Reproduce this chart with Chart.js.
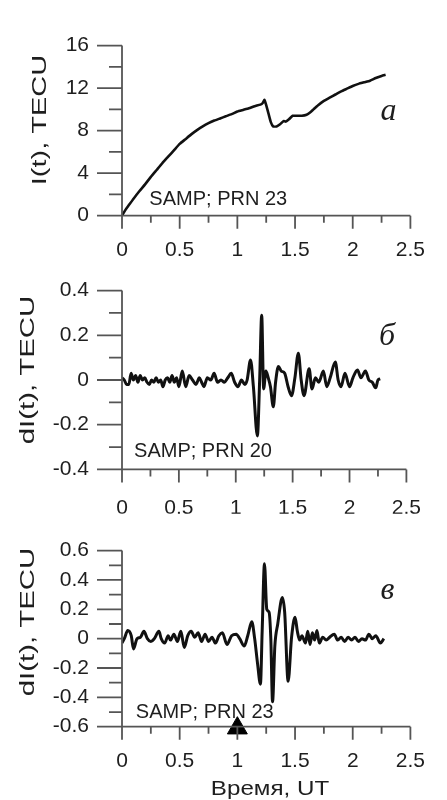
<!DOCTYPE html>
<html>
<head>
<meta charset="utf-8">
<script src="https://cdn.jsdelivr.net/npm/chart.js@4.4.1/dist/chart.umd.min.js"></script>
<style>
    body { margin: 0; background: #fff; }
    .wrap { position: relative; width: 447px; height: 800px; overflow: hidden; }
    canvas { position: absolute; left: 0; }
</style>
</head>
<body>
<div class="wrap">
    <canvas id="panelA" width="447" height="262" style="top:0px"></canvas>
    <canvas id="panelB" width="447" height="270" style="top:245px"></canvas>
    <canvas id="panelC" width="447" height="295" style="top:505px"></canvas>
</div>
<script>
// time axis (UT, hours) shared by all panels
const xMajor = [0, 0.5, 1, 1.5, 2, 2.5];
const xMinor = [0.25, 0.75, 1.25, 1.75, 2.25];
const xLabels = ['0', '0.5', '1', '1.5', '2', '2.5'];

// panel a: I(t), SAMP PRN 23
const yMajorA = [0, 4, 8, 12, 16];
const yMinorA = [2, 6, 10, 14];
const yLabelsA = ['0', '4', '8', '12', '16'];
const timeA = [0, 0.03, 0.06, 0.10, 0.15, 0.20, 0.25, 0.30, 0.35, 0.40, 0.45, 0.50, 0.55, 0.60, 0.65,
    0.70, 0.75, 0.80, 0.85, 0.90, 0.95, 1.00, 1.05, 1.10, 1.15, 1.20, 1.22, 1.235, 1.25, 1.27,
    1.29, 1.31, 1.34, 1.37, 1.40, 1.42, 1.45, 1.48, 1.52, 1.56, 1.60, 1.63, 1.66, 1.70, 1.75,
    1.80, 1.85, 1.90, 1.95, 2.00, 2.05, 2.10, 2.15, 2.20, 2.25, 2.285];
const tecA = [0, 0.55, 1.0, 1.6, 2.3, 2.95, 3.65, 4.3, 4.95, 5.55, 6.15, 6.75, 7.2, 7.65, 8.05,
    8.4, 8.7, 8.95, 9.15, 9.35, 9.55, 9.8, 9.95, 10.1, 10.3, 10.45, 10.6, 10.9, 10.4, 9.6,
    8.8, 8.4, 8.4, 8.6, 8.9, 8.85, 9.1, 9.4, 9.4, 9.4, 9.5, 9.7, 10.0, 10.4, 10.8,
    11.1, 11.4, 11.7, 11.95, 12.2, 12.4, 12.55, 12.7, 12.95, 13.15, 13.25];

// panel б: dI(t), SAMP PRN 20
const yMajorB = [-0.4, -0.2, 0, 0.2, 0.4];
const yMinorB = [-0.3, -0.1, 0.1, 0.3];
const yLabelsB = ['-0.4', '-0.2', '0', '0.2', '0.4'];
const timeB = [0.00, 0.02, 0.04, 0.06, 0.08, 0.10, 0.12, 0.14, 0.16, 0.18,
    0.20, 0.22, 0.24, 0.26, 0.28, 0.30, 0.32, 0.34, 0.36, 0.38,
    0.40, 0.42, 0.44, 0.46, 0.48, 0.50, 0.53, 0.56, 0.59, 0.62,
    0.65, 0.68, 0.70, 0.72, 0.75, 0.78, 0.81, 0.84, 0.87, 0.90,
    0.93, 0.96, 0.99, 1.02, 1.05, 1.08, 1.10, 1.13, 1.155, 1.19,
    1.21, 1.228, 1.245, 1.265, 1.285, 1.305, 1.33, 1.35, 1.375, 1.40,
    1.43, 1.46, 1.49, 1.52, 1.55, 1.575, 1.60, 1.645, 1.67, 1.70,
    1.73, 1.77, 1.80, 1.83, 1.875, 1.90, 1.925, 1.96, 2.00, 2.03,
    2.07, 2.10, 2.14, 2.17, 2.20, 2.23, 2.25, 2.27];
const dtecB = [0.01, 0.00, -0.02, -0.02, 0.03, 0.00, 0.02, -0.01, 0.02, 0.00,
    0.01, -0.01, -0.02, 0.00, -0.01, 0.01, -0.01, 0.00, -0.03, 0.00,
    0.01, -0.01, 0.02, -0.01, 0.01, -0.03, 0.04, -0.03, 0.02, 0.00,
    -0.02, 0.01, -0.01, -0.03, 0.01, 0.00, 0.03, -0.01, 0.00, -0.01,
    0.01, 0.03, -0.01, -0.03, 0.00, -0.02, 0.00, 0.09, -0.03, -0.25,
    0.00, 0.29, -0.04, 0.04, 0.01, -0.03, -0.12, -0.01, 0.06, 0.04,
    0.03, -0.03, -0.07, 0.01, 0.12, 0.00, -0.07, 0.05, -0.04, 0.01,
    -0.01, 0.04, -0.03, 0.01, 0.08, 0.00, -0.03, 0.03, -0.03, 0.01,
    0.045, 0.01, 0.04, 0.00, -0.01, -0.035, 0.00, 0.005];

// panel в: dI(t), SAMP PRN 23
const yMajorC = [-0.6, -0.4, -0.2, 0, 0.2, 0.4, 0.6];
const yMinorC = [-0.5, -0.3, -0.1, 0.1, 0.3, 0.5];
const yLabelsC = ['-0.6', '-0.4', '-0.2', '0', '0.2', '0.4', '0.6'];
const timeC = [0.00, 0.02, 0.05, 0.08, 0.10, 0.13, 0.16, 0.19, 0.22, 0.25,
    0.28, 0.32, 0.34, 0.37, 0.40, 0.42, 0.45, 0.48, 0.51, 0.54,
    0.57, 0.60, 0.63, 0.66, 0.69, 0.72, 0.75, 0.78, 0.81, 0.84,
    0.87, 0.91, 0.95, 0.99, 1.02, 1.06, 1.09, 1.125, 1.15, 1.175,
    1.20, 1.215, 1.235, 1.255, 1.275, 1.29, 1.305, 1.325, 1.35, 1.39,
    1.41, 1.44, 1.47, 1.50, 1.52, 1.54, 1.56, 1.59, 1.61, 1.63,
    1.65, 1.67, 1.69, 1.71, 1.74, 1.77, 1.80, 1.84, 1.87, 1.90,
    1.93, 1.96, 1.99, 2.02, 2.05, 2.08, 2.11, 2.14, 2.17, 2.20,
    2.24, 2.27];
const dtecC = [-0.03, 0.00, 0.055, 0.02, -0.07, 0.00, 0.01, 0.05, 0.00, -0.02,
    0.00, 0.05, 0.00, -0.03, 0.02, -0.01, 0.03, -0.02, 0.05, -0.06,
    0.02, 0.05, 0.01, 0.04, -0.02, 0.03, -0.02, 0.01, -0.03, 0.02,
    0.04, -0.04, 0.02, 0.03, 0.00, -0.05, 0.02, 0.115, 0.00, -0.17,
    -0.31, 0.05, 0.51, 0.20, 0.18, 0.00, -0.43, -0.05, 0.10, 0.28,
    0.18, -0.29, 0.01, 0.145, 0.05, -0.01, 0.02, -0.03, 0.05, -0.04,
    0.04, -0.01, 0.055, -0.03, 0.01, -0.01, 0.01, 0.03, -0.01, 0.01,
    -0.02, 0.01, -0.01, 0.01, -0.02, 0.00, -0.01, 0.03, 0.00, 0.02,
    -0.03, 0.00];

// event marker (triangle on the time axis)
const markerTime = [1.0];
const markerValue = [-0.61];

const SANS = '"Liberation Sans", Arial, sans-serif';
const SERIF = '"Liberation Serif", "Times New Roman", serif';
const textColor = '#1e1e1e';
const axisColor = '#555';

// draws axis lines, long/short ticks and the free texts of a panel
const panelDecor = {
    id: 'panelDecor',
    afterDraw(chart, args, o) {
        const { ctx, scales: { x, y } } = chart;
        const left = x.left, bottom = y.bottom;
        ctx.save();
        ctx.strokeStyle = axisColor;
        ctx.lineWidth = 1.8;
        ctx.beginPath();
        ctx.moveTo(left, y.top);
        ctx.lineTo(left, bottom);
        ctx.moveTo(left, bottom);
        ctx.lineTo(x.right, bottom);
        o.yMajor.forEach(v => {
            const p = y.getPixelForValue(v);
            ctx.moveTo(left - 25, p); ctx.lineTo(left, p);
        });
        o.yMinor.forEach(v => {
            const p = y.getPixelForValue(v);
            ctx.moveTo(left - 13, p); ctx.lineTo(left, p);
        });
        xMajor.forEach(v => {
            const p = x.getPixelForValue(v);
            ctx.moveTo(p, bottom); ctx.lineTo(p, bottom + 13);
        });
        xMinor.forEach(v => {
            const p = x.getPixelForValue(v);
            ctx.moveTo(p, bottom); ctx.lineTo(p, bottom + 7);
        });
        ctx.stroke();

        ctx.fillStyle = textColor;
        ctx.textBaseline = 'alphabetic';
        o.notes.forEach(n => {
            ctx.font = n.font;
            ctx.textAlign = n.align;
            ctx.fillText(n.text, x.getPixelForValue(n.x), y.getPixelForValue(n.y));
        });

        // stretched titles
        ctx.textAlign = 'center';
        ctx.textBaseline = 'middle';
        ctx.font = '21px ' + SANS;
        const t = o.yTitle;
        ctx.save();
        ctx.translate(t.x, t.y);
        ctx.rotate(-Math.PI / 2);
        ctx.scale(t.stretch, 1);
        ctx.fillText(t.text, 0, 0);
        ctx.restore();
        if (o.xTitle) {
            const q = o.xTitle;
            ctx.save();
            ctx.translate(q.x, q.y);
            ctx.scale(q.stretch, 1);
            ctx.textBaseline = 'alphabetic';
            ctx.fillText(q.text, 0, 0);
            ctx.restore();
        }
        ctx.restore();
    }
};

function makePanel(id, cfg) {
    const datasets = [{
        data: cfg.time.map((t, i) => ({ x: t, y: cfg.values[i] })),
        showLine: true,
        borderColor: '#111',
        borderWidth: cfg.lineWidth,
        pointRadius: 0,
        cubicInterpolationMode: cfg.smooth ? 'monotone' : 'default',
        tension: cfg.smooth ? 0.4 : 0.15
    }];
    if (cfg.marker) {
        datasets.push({
            data: markerTime.map((t, i) => ({ x: t, y: markerValue[i] })),
            showLine: false,
            pointStyle: 'triangle',
            pointRadius: 11.5,
            backgroundColor: '#000',
            borderColor: '#000',
            borderWidth: 1,
            clip: false
        });
    }

    return new Chart(document.getElementById(id), {
        type: 'scatter',
        data: { datasets },
        options: {
            responsive: false,
            animation: false,
            layout: { padding: { left: 0, right: 19, top: cfg.padTop, bottom: 0 } },
            plugins: {
                legend: { display: false },
                tooltip: { enabled: false },
                panelDecor: {
                    yMajor: cfg.yMajor,
                    yMinor: cfg.yMinor,
                    notes: cfg.notes,
                    yTitle: cfg.yTitle,
                    xTitle: cfg.xTitle
                }
            },
            scales: {
                x: {
                    type: 'linear',
                    min: 0,
                    max: 2.5,
                    afterBuildTicks: s => { s.ticks = xMajor.map(v => ({ value: v })); },
                    afterFit: s => { s.height = cfg.xHeight; },
                    grid: { display: false, drawTicks: false },
                    border: { display: false },
                    ticks: {
                        autoSkip: false,
                        maxRotation: 0,
                        padding: cfg.xPad,
                        color: textColor,
                        font: { family: SANS, size: 21 },
                        callback: (v, i) => xLabels[i]
                    }
                },
                y: {
                    type: 'linear',
                    min: cfg.yMajor[0],
                    max: cfg.yMajor[cfg.yMajor.length - 1],
                    afterBuildTicks: s => { s.ticks = cfg.yMajor.map(v => ({ value: v })); },
                    afterFit: s => { s.width = 122; },
                    grid: { display: false, drawTicks: false },
                    border: { display: false },
                    ticks: {
                        padding: 33,
                        color: textColor,
                        font: { family: SANS, size: 21 },
                        callback: (v, i) => cfg.yLabels[i]
                    }
                }
            }
        },
        plugins: [panelDecor]
    });
}

makePanel('panelA', {
    time: timeA, values: tecA, lineWidth: 2.6, smooth: false,
    yMajor: yMajorA, yMinor: yMinorA, yLabels: yLabelsA,
    padTop: 19, xHeight: 46.3, xPad: 22,
    yTitle: { text: 'I(t), TECU', x: 40, y: 120, stretch: 1.38 },
    notes: [
        { text: 'SAMP; PRN 23', x: 0.237, y: 0.99, align: 'left', font: '20px ' + SANS },
        { text: 'a', x: 2.31, y: 9.0, align: 'center', font: 'italic 32px ' + SERIF }
    ]
});

makePanel('panelB', {
    time: timeB, values: dtecB, lineWidth: 3, smooth: true,
    yMajor: yMajorB, yMinor: yMinorB, yLabels: yLabelsB,
    padTop: 30, xHeight: 44.3, xPad: 26,
    yTitle: { text: 'dI(t), TECU', x: 28, y: 125, stretch: 1.4 },
    notes: [
        { text: 'SAMP; PRN 20', x: 0.106, y: -0.344, align: 'left', font: '20px ' + SANS },
        { text: 'б', x: 2.33, y: 0.155, align: 'center', font: 'italic 32px ' + SERIF }
    ]
});

makePanel('panelC', {
    time: timeC, values: dtecC, lineWidth: 3, smooth: true, marker: true,
    yMajor: yMajorC, yMinor: yMinorC, yLabels: yLabelsC,
    padTop: 26, xHeight: 73.3, xPad: 22,
    yTitle: { text: 'dI(t), TECU', x: 28, y: 117, stretch: 1.4 },
    xTitle: { text: 'Время, UT', x: 270, y: 290, stretch: 1.15 },
    notes: [
        { text: 'SAMP; PRN 23', x: 0.12, y: -0.54, align: 'left', font: '20px ' + SANS },
        { text: 'в', x: 2.3, y: 0.269, align: 'center', font: 'italic 32px ' + SERIF }
    ]
});
</script>
</body>
</html>
